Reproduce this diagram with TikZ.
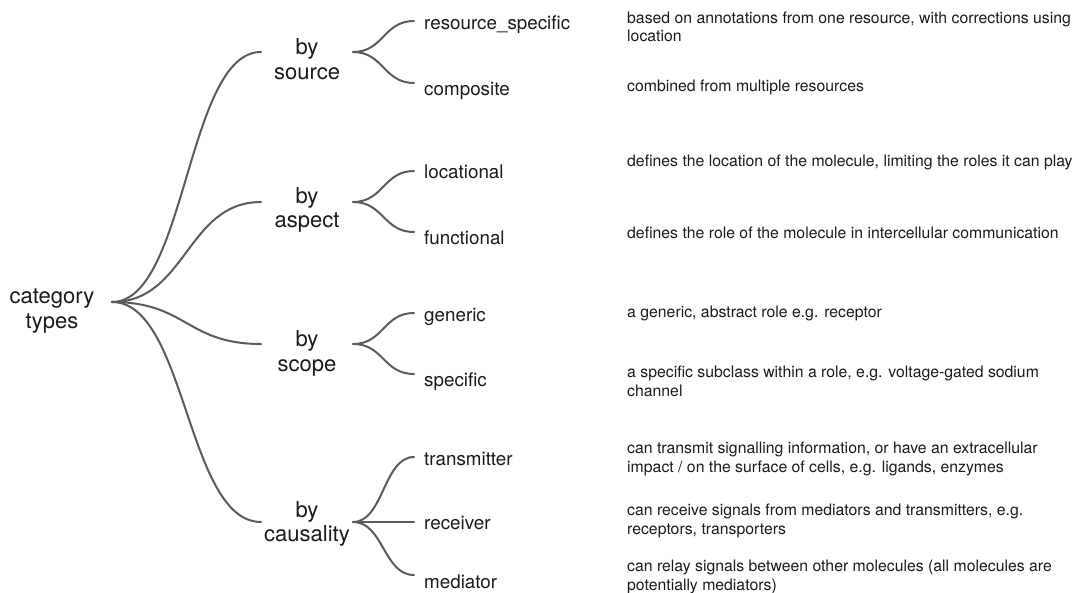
\documentclass[tikz,border=0pt]{standalone}
\usepackage{fontspec}
\setmainfont{TeX Gyre Heros}
\usetikzlibrary{calc}
\definecolor{linegray}{HTML}{5B5B5B}
\definecolor{textblack}{HTML}{1A1A1A}
\newcommand{\mmlink}[3]{\draw[conn] (#1) .. controls ($(#1)+(#3,0)$) and ($(#2)-(#3,0)$) .. (#2);}
\begin{document}
\begin{tikzpicture}[x=1pt,y=-1pt,
  conn/.style={draw=linegray, line width=2pt, line cap=round},
  lvl/.style={font=\fontsize{22}{24.5}\selectfont, align=center, anchor=base, inner sep=0pt, text=textblack},
  leaf/.style={font=\fontsize{18.8}{22}\selectfont, anchor=base west, inner sep=0pt, text=textblack},
  desc/.style={font=\fontsize{15.8}{18.8}\selectfont, align=left, anchor=base west, inner sep=0pt, text=textblack}]
\useasboundingbox (0,0) rectangle (1075,593);

% text nodes (base anchor = baseline of the last line)
\node[lvl] (root) at (52,328) {category\\types};
\node[lvl] (src) at (307,79.5) {by\\source};
\node[lvl] (asp) at (307,227.7) {by\\aspect};
\node[lvl] (scp) at (307,371) {by\\scope};
\node[lvl] (cau) at (307,541.6) {by\\causality};

\node[leaf] (res) at (424,30) {resource\_specific};
\node[leaf] (com) at (424,95.6) {composite};
\node[leaf] (loc) at (424,178.4) {locational};
\node[leaf] (fun) at (424,244.2) {functional};
\node[leaf] (gen) at (424,321.6) {generic};
\node[leaf] (spe) at (424,386.6) {specific};
\node[leaf] (tra) at (424,465.4) {transmitter};
\node[leaf] (rec) at (424,529) {receiver};
\node[leaf] (med) at (424,588) {mediator};

\node[desc] (dres) at (627,42) {based on annotations from one resource, with corrections using\\location};
\node[desc] (dcom) at (627,92) {combined from multiple resources};
\node[desc] (dloc) at (627,166.8) {defines the location of the molecule, limiting the roles it can play};
\node[desc] (dfun) at (627,238.4) {defines the role of the molecule in intercellular communication};
\node[desc] (dgen) at (627,317.8) {a generic, abstract role e.g. receptor};
\node[desc] (dspe) at (627,396) {a specific subclass within a role, e.g. voltage-gated sodium\\channel};
\node[desc] (dtra) at (627,472.2) {can transmit signalling information, or have an extracellular\\impact / on the surface of cells, e.g. ligands, enzymes};
\node[desc] (drec) at (627,534.4) {can receive signals from mediators and transmitters, e.g.\\receptors, transporters};
\node[desc] (dmed) at (627,590.4) {can relay signals between other molecules (all molecules are\\potentially mediators)};

% junction coordinates
\coordinate (rootJ) at (112,302);
\coordinate (srcL) at (261,52);  \coordinate (srcR) at (353,52);
\coordinate (aspL) at (261,202); \coordinate (aspR) at (353,202);
\coordinate (scpL) at (261,344); \coordinate (scpR) at (353,344);
\coordinate (cauL) at (261,522); \coordinate (cauR) at (353,522);
\coordinate (resL) at (414,21);
\coordinate (comL) at (414,83);
\coordinate (locL) at (414,171);
\coordinate (funL) at (414,232);
\coordinate (genL) at (414,313);
\coordinate (speL) at (414,374);
\coordinate (traL) at (414,457);
\coordinate (recL) at (414,522);
\coordinate (medL) at (414,575);

% connectors
\mmlink{rootJ}{srcL}{74.5}
\mmlink{rootJ}{aspL}{74.5}
\mmlink{rootJ}{scpL}{74.5}
\mmlink{rootJ}{cauL}{74.5}
\mmlink{srcR}{resL}{30.5}
\mmlink{srcR}{comL}{30.5}
\mmlink{aspR}{locL}{30.5}
\mmlink{aspR}{funL}{30.5}
\mmlink{scpR}{genL}{30.5}
\mmlink{scpR}{speL}{30.5}
\mmlink{cauR}{traL}{30.5}
\draw[conn] (cauR) -- (recL);
\mmlink{cauR}{medL}{30.5}
\end{tikzpicture}
\end{document}
